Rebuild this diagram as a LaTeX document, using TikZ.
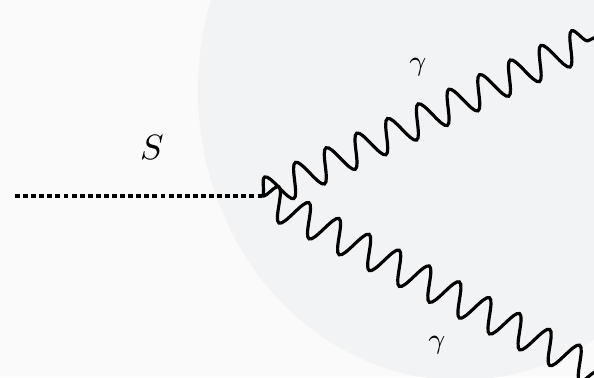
\documentclass[tikz,border=0pt]{standalone}
\usetikzlibrary{decorations.pathmorphing}
\definecolor{paper}{RGB}{250,250,250}
\definecolor{globe}{RGB}{242,243,245}
\begin{document}
\begin{tikzpicture}[x=1cm,y=1cm,
    photon/.style={decorate,decoration={snake,segment length=0.34cm,
        amplitude=0.16cm},line width=0.9pt},
    scalar/.style={line width=0.9pt,dash pattern=on 1.4pt off 0.9pt}]
  \useasboundingbox (0,0) rectangle (5.94,3.77);
  \fill[paper] (0,0) rectangle (5.94,3.77);
  \begin{scope}
    \clip (0,0) rectangle (5.94,3.77);
    \fill[globe] (4.60,2.87) ellipse [x radius=2.62,y radius=2.90];
  \end{scope}
  \coordinate (in) at (0.15,1.81);
  \coordinate (vtx) at (2.62,1.81);
  \coordinate (out1) at (6.00,3.42);
  \coordinate (out2) at (6.00,0.03);
  \draw[scalar] (in) -- (vtx);
  \draw[photon] (vtx) -- (out1);
  \draw[photon] (vtx) -- (out2);
  \node (lS) at (1.52,2.30) {$S$};
  \node[font=\footnotesize] (lg1) at (4.18,3.10) {$\gamma$};
  \node[font=\footnotesize] (lg2) at (4.37,0.32) {$\gamma$};
\end{tikzpicture}
\end{document}
